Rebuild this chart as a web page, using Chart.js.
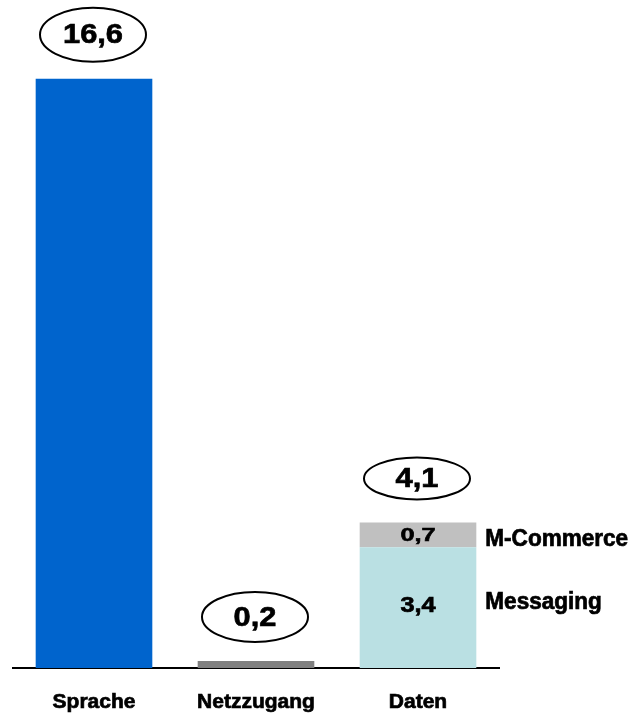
<!DOCTYPE html>
<html>
<head>
<meta charset="utf-8">
<script src="https://cdn.jsdelivr.net/npm/chart.js@4.4.0/dist/chart.umd.min.js"></script>
<style>
    html, body { margin: 0; padding: 0; background: #fff; }
    #wrap { width: 632px; height: 713px; }
</style>
</head>
<body>
<div id="wrap"><canvas id="chart"></canvas></div>
<script>
// Umsatz je Segment (Mrd.)
const categories = ['Sprache', 'Netzzugang', 'Daten'];
const sprache = [16.6, null, null];
const netzzugang = [null, 0.2, null];
const messaging = [null, null, 3.4];
const mCommerce = [null, null, 0.7];
const totals = [16.6, 0.2, 4.1];
const yMax = 18;

const FONT = '"Liberation Sans", Arial, Helvetica, sans-serif';

// half heights of the total bubbles
const bubbleRy = [27, 25, 21];

function fmt(v) {
    return v.toFixed(1).replace('.', ',');
}

// heavy text with a slight horizontal stretch, like the old slide fonts
function drawText(ctx, text, x, y, font, sx, sy) {
    ctx.save();
    ctx.translate(x, y);
    ctx.scale(sx, sy);
    ctx.font = font;
    ctx.lineWidth = 0.7;
    ctx.strokeStyle = '#000';
    ctx.fillText(text, 0, 0);
    ctx.strokeText(text, 0, 0);
    ctx.restore();
}

const labelPlugin = {
    id: 'barLabels',
    afterDatasetsDraw(chart) {
        const ctx = chart.ctx;
        ctx.save();
        ctx.fillStyle = '#000';
        ctx.textAlign = 'center';
        ctx.textBaseline = 'middle';

        // totals in an ellipse above each column
        categories.forEach((c, i) => {
            let top = null, x = null;
            chart.data.datasets.forEach((ds, d) => {
                if (ds.data[i] == null) return;
                const el = chart.getDatasetMeta(d).data[i];
                if (top === null || el.y < top) { top = el.y; x = el.x; }
            });
            if (top === null) return;
            const cy = top - 44;
            ctx.beginPath();
            ctx.ellipse(x - 1, cy, 53, bubbleRy[i], 0, 0, Math.PI * 2);
            ctx.fillStyle = '#fff';
            ctx.fill();
            ctx.lineWidth = 2;
            ctx.strokeStyle = '#000';
            ctx.stroke();
            ctx.fillStyle = '#000';
            ctx.textAlign = 'center';
            drawText(ctx, fmt(totals[i]), x - 1, cy + 1, 'bold 28px ' + FONT, 1.1, 1);
        });

        // segment values and names for the stacked column
        chart.data.datasets.forEach((ds, d) => {
            if (!ds.segmentName) return;
            const meta = chart.getDatasetMeta(d);
            ds.data.forEach((v, i) => {
                if (v == null) return;
                const el = meta.data[i];
                const mid = (el.y + el.base) / 2;
                ctx.textAlign = 'center';
                drawText(ctx, fmt(v), el.x, mid + ds.textShift, 'bold 22px ' + FONT, 1.15, ds.textSy);
                ctx.textAlign = 'left';
                drawText(ctx, ds.segmentName, el.x + el.width / 2 + 9, mid + ds.nameShift, 'bold 23px ' + FONT, 0.98, 1);
            });
        });
        ctx.restore();
    }
};

const ctx = document.getElementById('chart').getContext('2d');
new Chart(ctx, {
    type: 'bar',
    data: {
        labels: categories,
        datasets: [
            { label: 'Sprache', data: sprache, backgroundColor: '#0064CD' },
            { label: 'Netzzugang', data: netzzugang, backgroundColor: '#808080' },
            { label: 'Messaging', data: messaging, backgroundColor: '#BAE0E3',
              segmentName: 'Messaging', textShift: -2, textSy: 1, nameShift: -5 },
            { label: 'M-Commerce', data: mCommerce, backgroundColor: '#C0C0C0',
              segmentName: 'M-Commerce', textShift: 1, textSy: 0.8, nameShift: 5 }
        ]
    },
    options: {
        responsive: true,
        maintainAspectRatio: false,
        animation: false,
        layout: {
            padding: { left: 13, right: 133, top: 29, bottom: 0 }
        },
        datasets: {
            bar: {
                barPercentage: 0.72,
                categoryPercentage: 1,
                borderWidth: 0
            }
        },
        plugins: {
            legend: { display: false },
            tooltip: { enabled: false }
        },
        scales: {
            x: {
                stacked: true,
                grid: { display: false, drawTicks: false },
                border: { display: true, color: '#000', width: 2 },
                ticks: {
                    color: '#000',
                    padding: 22,
                    textStrokeColor: '#000',
                    textStrokeWidth: 0.7,
                    font: { family: FONT, size: 21, weight: 'bold' }
                },
                afterFit: function (axis) { axis.height = 45; }
            },
            y: {
                stacked: true,
                display: false,
                min: 0,
                max: yMax
            }
        }
    },
    plugins: [labelPlugin]
});
</script>
</body>
</html>
